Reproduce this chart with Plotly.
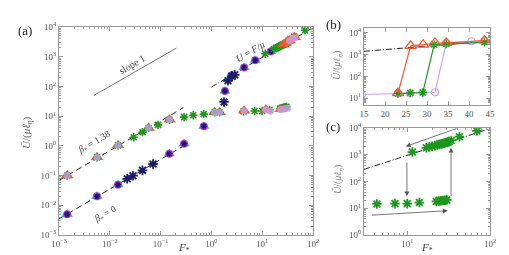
import numpy as np
import plotly.graph_objects as go

# ---------------- data ----------------
# Panel (a): beta*=1.38 family (three runs, overlapping at low F)
red_F = [0.00145, 0.0056, 0.0145, 0.058, 0.15, 1.16, 1.45, 4.4, 11.7, 23.1, 26.1, 29.1, 31.9, 34.6, 43.7]
red_U = [0.1, 0.41, 1.04, 4.0, 7.6, 13.5, 13.5, 15.1, 16.4, 17, 2570, 2900, 3460, 3500, 4500]
lav_F = [0.00145, 0.0056, 0.0145, 0.058, 0.15, 1.16, 1.45, 4.4, 11.7, 14.5, 23.1, 26.0, 29.0, 31.9, 34.6, 40.6, 43.7]
lav_U = [0.1, 0.41, 1.04, 4.0, 7.6, 13.5, 13.5, 15.1, 16.4, 14.5, 16.5, 17, 18, 18.5, 3460, 4170, 4300]
grn_low_F = [0.00145, 0.0056, 0.0145, 0.0295, 0.044, 0.058, 0.089, 0.15, 0.29, 0.44, 0.71, 1.16, 1.45]
grn_low_U = [0.1, 0.41, 1.04, 1.95, 2.9, 4.0, 5.1, 7.6, 9.3, 10.7, 11.7, 13.5, 13.5]
# green run, panel (c): lower and upper branches
grn_lo_F = [4.3, 7.1, 10, 14, 22.5, 24, 25.5, 27, 28.5, 30]
grn_lo_U = [14.5, 14.9, 14.9, 16.3, 18, 18.5, 19, 19.5, 20, 20.5]
grn_up_F = [11.5, 17, 18.5, 20, 21.5, 23, 24.5, 26, 27.5, 29, 30.5, 32, 34, 42.7, 69.5]
grn_up_U = [1260, 1820, 1950, 2050, 2200, 2300, 2450, 2550, 2700, 2800, 2950, 3100, 3430, 4730, 7760]

# beta*=0 family (cyan triangles, violet circles, navy asterisks)
b0_F = [0.00145, 0.0056, 0.0145, 0.148, 0.29, 0.71, 1.85, 2.45, 4.4, 7.3, 14.7]
b0_U = [0.005, 0.02, 0.049, 0.54, 1.17, 4.6, 70, 235, 437, 760, 1510]
navy_F = [0.022, 0.0286, 0.044, 0.071, 1.77, 2.12, 2.55, 2.88]
navy_U = [0.078, 0.099, 0.15, 0.245, 30, 155, 219, 245]

# guide lines, panel (a)
slope_F = [0.0049, 0.204]
slope_U = [50, 1950]
beta138_F = [0.001, 0.28]
beta138_U = [0.069, 19.3]
beta0_F = [0.001, 0.3]
beta0_U = [0.0035, 1.05]
mu_F = [1, 100]
mu_U = [95, 9500]

# Panel (b)
b_red_F = [23.1, 26.1, 29.1, 31.9, 34.6, 43.7]
b_red_U = [17, 2570, 2900, 3460, 3500, 4500]
b_grn_F = [23.1, 26.0, 29.0, 31.7, 34.6, 43.7]
b_grn_U = [16, 17, 18, 2900, 3100, 3700]
b_lav_F = [14.5, 23.1, 26.0, 29.0, 31.9, 34.6, 40.6, 43.7]
b_lav_U = [14.5, 16.5, 17, 18, 18.5, 3460, 4170, 4300]
b_mu_F = [15, 45]
b_mu_U = [1430, 4290]

# Panel (c)
c_mu_F = [3, 100]
c_mu_U = [285, 9500]
# arrows: (start F, start U, end F, end U)
arrows = [
    (41, 10000, 9.6, 2050),
    (9.9, 575, 9.9, 28),
    (3.6, 5.5, 30.8, 8.1),
    (33.8, 24.5, 33.8, 1820),
]

# tick exponents
a_x_exp = [-3, -2, -1, 0, 1, 2]
a_y_exp = [-3, -2, -1, 0, 1, 2, 3, 4]
b_y_exp = [1, 2, 3, 4]
b_x_ticks = [15, 20, 25, 30, 35, 40, 45]
c_x_exp = [1, 2]
c_y_exp = [0, 1, 2, 3, 4]

# ---------------- styling ----------------
RED = '#EE5A32'
LAV = '#C9A3F2'
GRN = '#1E961E'
CYAN = '#22C6C8'
VIO = '#B23CE6'
NAVY = '#1B1B6B'
AX = '#9a9a9a'
SERIF = 'Liberation Serif'

fig = go.Figure()

def sc(x, y, xa, ya, **kw):
    fig.add_trace(go.Scatter(x=x, y=y, xaxis=xa, yaxis=ya, showlegend=False,
                             hoverinfo='skip', **kw))

# ---- panel (a) guide lines
sc(slope_F, slope_U, 'x', 'y', mode='lines', line=dict(color='#777', width=1))
sc(beta138_F, beta138_U, 'x', 'y', mode='lines', line=dict(color='#222', width=1, dash='6px,4px'))
sc(beta0_F, beta0_U, 'x', 'y', mode='lines', line=dict(color='#222', width=1, dash='6px,4px'))
sc(mu_F, mu_U, 'x', 'y', mode='lines', line=dict(color='#222', width=1, dash='6px,2px,1px,2px'))

# beta*=0 family
sc(b0_F, b0_U, 'x', 'y', mode='markers',
   marker=dict(symbol='triangle-up', size=10, color=CYAN, line=dict(width=0)))
sc(b0_F, b0_U, 'x', 'y', mode='markers',
   marker=dict(symbol='circle', size=8, color=VIO, line=dict(width=0)))
sc(b0_F, b0_U, 'x', 'y', mode='markers',
   marker=dict(symbol='asterisk-open', size=5, color=NAVY, line=dict(width=1.5)))
sc(navy_F, navy_U, 'x', 'y', mode='markers',
   marker=dict(symbol='asterisk-open', size=8, color=NAVY, line=dict(width=1.8)))

# beta*=1.38 family
sc(grn_lo_F + grn_up_F, grn_lo_U + grn_up_U, 'x', 'y', mode='markers',
   marker=dict(symbol='asterisk-open', size=7, color=GRN, line=dict(width=1.6)))
sc(red_F, red_U, 'x', 'y', mode='markers',
   marker=dict(symbol='triangle-up', size=11, color=RED, line=dict(width=0)))
sc(grn_low_F, grn_low_U, 'x', 'y', mode='markers',
   marker=dict(symbol='asterisk-open', size=7, color=GRN, line=dict(width=1.6)))
sc(lav_F, lav_U, 'x', 'y', mode='markers', opacity=0.8,
   marker=dict(symbol='circle', size=7, color=LAV, line=dict(width=0)))

# ---- panel (b)
sc(b_mu_F, b_mu_U, 'x2', 'y2', mode='lines', line=dict(color='#222', width=1, dash='6px,2px,1px,2px'))
sc(b_lav_F, b_lav_U, 'x2', 'y2', mode='lines+markers', line=dict(color=LAV, width=1.2),
   marker=dict(symbol='circle-open', size=7, color=LAV, line=dict(width=1.2)))
sc(b_grn_F, b_grn_U, 'x2', 'y2', mode='lines+markers', line=dict(color=GRN, width=1.2),
   marker=dict(symbol='asterisk-open', size=7, color=GRN, line=dict(width=1.4)))
sc(b_red_F, b_red_U, 'x2', 'y2', mode='lines+markers', line=dict(color=RED, width=1.2),
   marker=dict(symbol='triangle-up-open', size=10, color=RED, line=dict(width=1.2)))

# ---- panel (c)
sc(c_mu_F, c_mu_U, 'x3', 'y3', mode='lines', line=dict(color='#222', width=1, dash='6px,2px,1px,2px'))
sc(grn_lo_F + grn_up_F, grn_lo_U + grn_up_U, 'x3', 'y3', mode='markers',
   marker=dict(symbol='asterisk-open', size=8, color=GRN, line=dict(width=1.8)))

W, H = 509, 255
def px(x0, x1):
    return [x0 / W, x1 / W]
def py(top, bot):
    return [1 - bot / H, 1 - top / H]

def pw(exps):
    return dict(tickmode='array', tickvals=[10.0 ** e for e in exps],
                ticktext=['10<sup>%s</sup>' % (str(e).replace('-', '−')) for e in exps])

tickfont = dict(family=SERIF, size=9, color='#555')
base = dict(showline=True, linecolor=AX, linewidth=1, mirror='ticks', ticks='inside',
            ticklen=4, tickcolor=AX, tickfont=tickfont, showgrid=False, zeroline=False,
            automargin=False)
logax = dict(base, type='log',
             minor=dict(ticks='inside', ticklen=2, tickcolor=AX, showgrid=False, dtick='D1'))

fig.update_layout(
    width=W, height=H, margin=dict(l=0, r=0, t=0, b=0, autoexpand=False),
    paper_bgcolor='white', plot_bgcolor='white',
    xaxis=dict(logax, **pw(a_x_exp), domain=px(51, 305), range=[-3, 2], anchor='y'),
    yaxis=dict(logax, **pw(a_y_exp), domain=py(19, 227), range=[-3, 4], anchor='x'),
    xaxis2=dict(base, tickmode='array', tickvals=b_x_ticks, domain=px(356, 482),
                range=[15, 45], anchor='y2'),
    yaxis2=dict(logax, **pw(b_y_exp), domain=py(20, 97), range=[0.68, 4.23], anchor='x2'),
    xaxis3=dict(logax, **pw(c_x_exp), domain=px(356, 482), range=[np.log10(3), 2], anchor='y3'),
    yaxis3=dict(logax, **pw(c_y_exp), domain=py(120, 227), range=[0, 4], anchor='x3'),
)

ann = []
def txt(x, y, t, size=11, angle=0, color='#333'):
    ann.append(dict(x=x / W, y=1 - y / H, xref='paper', yref='paper', text=t,
                    showarrow=False, textangle=angle, xanchor='center', yanchor='middle',
                    font=dict(family=SERIF, size=size, color=color)))

ylab = '<i>Ū</i>/(<i>μℓ</i><sub><i>η</i></sub>)'
txt(17, 22, '(a)', 13, color='#222')
txt(325, 17, '(b)', 13, color='#222')
txt(325, 118, '(c)', 13, color='#222')
txt(19, 125, ylab, 11, -90, '#666')
txt(330, 58, ylab, 10, -90, '#888')
txt(330, 172, ylab, 10, -90, '#888')
txt(176, 240, '<i>F</i><sub>*</sub>', 11, color='#444')
txt(419, 240, '<i>F</i><sub>*</sub>', 11, color='#444')
txt(124, 57, 'slope 1', 10, -30, '#444')
txt(86, 134, '<i>β</i><sub>*</sub> = 1.38', 9.5, -30, '#444')
txt(97, 206, '<i>β</i><sub>*</sub> = 0', 9.5, -30, '#444')
txt(242, 43, '<i>U</i> = <i>F</i>/<i>μ</i>', 10, -30, '#444')

for (f0, u0, f1, u1) in arrows:
    ann.append(dict(x=np.log10(f1), y=np.log10(u1), ax=np.log10(f0), ay=np.log10(u0),
                    xref='x3', yref='y3', axref='x3', ayref='y3', text='',
                    showarrow=True, arrowhead=2, arrowsize=1.2, arrowwidth=0.8,
                    arrowcolor='#555'))
fig.update_layout(annotations=ann)

fig.write_html('out.html')
